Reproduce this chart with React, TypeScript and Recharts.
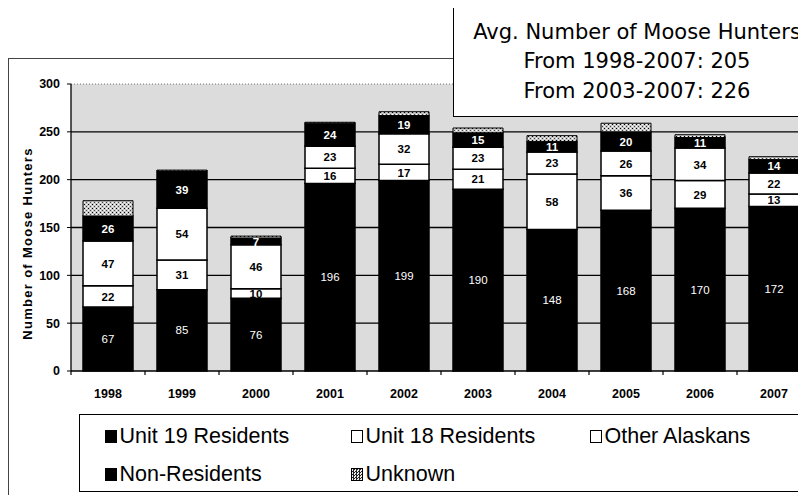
import React from "react";
import { BarChart, Bar, XAxis, YAxis, CartesianGrid, ReferenceLine, Legend, LabelList } from "recharts";

const years = ["1998", "1999", "2000", "2001", "2002", "2003", "2004", "2005", "2006", "2007"];
const unit19 = [67, 85, 76, 196, 199, 190, 148, 168, 170, 172];
const unit18 = [22, 31, 10, 16, 17, 21, 58, 36, 29, 13];
const otherAlaskans = [47, 54, 46, 23, 32, 23, 23, 26, 34, 22];
const nonResidents = [26, 39, 7, 24, 19, 15, 11, 20, 11, 14];
const unknown = [16, 1, 2, 1, 4, 5, 6, 9, 3, 3];
const yTicks = [0, 50, 100, 150, 200, 250, 300];
const gridValues = [50, 100, 150, 200, 250];
const avgLines = ["Avg. Number of Moose Hunters", "From 1998-2007: 205", "From 2003-2007: 226"];
const legendOrder = ["unit19", "unit18", "other", "nonres", "unknown"];

const data = years.map((year, i) => ({
  year,
  unit19: unit19[i],
  unit18: unit18[i],
  other: otherAlaskans[i],
  nonres: nonResidents[i],
  unknown: unknown[i],
}));

const ARIAL = "'Liberation Sans', Arial, sans-serif";

const checker = "repeating-conic-gradient(#222 0 25%, #eee 0 50%) 0 0 / 3px 3px";

const segLabel = (fill: string, weight: number, size: number) => (props: any) => {
  const vb = props.viewBox ?? props;
  const { x, y, width, height } = vb;
  if (props.value == null || !height) return null;
  return (
    <text
      x={x + width / 2}
      y={y + height / 2}
      dy="0.36em"
      textAnchor="middle"
      fill={fill}
      fontWeight={weight}
      fontFamily={ARIAL}
      fontSize={size}
    >
      {props.value}
    </text>
  );
};

function YearTick(props: any) {
  const { x, y, payload } = props;
  const half = payload?.offset ?? 37;
  return (
    <g>
      <line x1={x - half} x2={x - half} y1={y} y2={y + 4} stroke="#000" strokeWidth={1.2} />
      <text x={x} y={y + 27} textAnchor="middle" fontFamily={ARIAL} fontWeight={700} fontSize={12.5} fill="#000">
        {payload.value}
      </text>
    </g>
  );
}

function YLabel(props: any) {
  const { x, y, height } = props.viewBox;
  const cx = x + 27;
  const cy = y + height / 2 + 16;
  return (
    <text
      x={cx}
      y={cy}
      transform={`rotate(-90, ${cx}, ${cy})`}
      textAnchor="middle"
      dominantBaseline="central"
      fontFamily={ARIAL}
      fontWeight={700}
      fontSize={13}
      letterSpacing={1.3}
      fill="#000"
    >
      Number of Moose Hunters
    </text>
  );
}

const swatch: Record<string, React.CSSProperties> = {
  unit19: { background: "#000" },
  unit18: { background: "#fff" },
  other: { background: "#fff" },
  nonres: { background: "#000" },
  unknown: { background: checker },
};

const colLeft = [24.5, 270.5, 509.5];
const rowTop = [8.5, 46.5];

function LegendBox(props: any) {
  const items = [...(props.payload ?? [])].sort(
    (a: any, b: any) => legendOrder.indexOf(a.dataKey) - legendOrder.indexOf(b.dataKey)
  );
  return (
    <div
      style={{
        position: "relative",
        width: "100%",
        height: 78,
        boxSizing: "border-box",
        border: "1.5px solid #000",
        background: "#fff",
      }}
    >
      {items.map((it: any, i: number) => (
        <div
          key={it.value}
          style={{
            position: "absolute",
            left: colLeft[i % 3],
            top: rowTop[Math.floor(i / 3)],
            height: 26,
            display: "flex",
            alignItems: "center",
            fontFamily: ARIAL,
            fontSize: 21.5,
            color: "#000",
            whiteSpace: "nowrap",
          }}
        >
          <span
            style={{
              display: "inline-block",
              width: 12,
              height: 13,
              boxSizing: "border-box",
              border: "1.2px solid #000",
              marginRight: 3,
              ...swatch[it.dataKey],
            }}
          />
          {it.value}
        </div>
      ))}
    </div>
  );
}

export default function App() {
  return (
    <div style={{ position: "relative", margin: -8, width: 806, height: 503, overflow: "hidden", background: "#fff" }}>
      <div
        style={{
          position: "absolute",
          left: 8,
          top: 58,
          width: 900,
          height: 600,
          borderTop: "1px solid #444",
          borderLeft: "1px solid #444",
        }}
      />
      <div style={{ position: "absolute", left: 0, top: 0 }}>
        <BarChart width={830} height={503} data={data} margin={{ top: 84, right: 19, left: 0, bottom: 24 }} barSize={50}>
          <defs>
            <pattern id="unkFill" width="4" height="4" patternUnits="userSpaceOnUse">
              <rect width="4" height="4" fill="#c8c8c8" />
              <rect x="0" y="0" width="1" height="1" fill="#000" />
              <rect x="2" y="2" width="1" height="1" fill="#444" />
              <rect x="2" y="0" width="1" height="1" fill="#fff" />
              <rect x="0" y="2" width="1" height="1" fill="#fff" />
            </pattern>
          </defs>
          <CartesianGrid
            vertical={false}
            horizontalValues={gridValues}
            stroke="#000"
            strokeWidth={1.3}
            fill="#dcdcdc"
            fillOpacity={1}
          />
          <ReferenceLine y={300} stroke="#777" strokeDasharray="1 2" />
          <XAxis
            dataKey="year"
            height={30}
            tickLine={false}
            tickSize={0}
            tickMargin={0}
            axisLine={{ stroke: "#000", strokeWidth: 1.3 }}
            tick={<YearTick />}
            interval={0}
          />
          <YAxis
            width={71}
            domain={[0, 300]}
            ticks={yTicks}
            tickSize={4}
            tickMargin={7}
            axisLine={{ stroke: "#000", strokeWidth: 1.3 }}
            tickLine={{ stroke: "#000" }}
            tick={{ fontFamily: ARIAL, fontWeight: 700, fontSize: 12.5, fill: "#000" }}
            label={<YLabel />}
          />
          <Legend verticalAlign="bottom" wrapperStyle={{ left: 79, top: 414, width: 726, height: 78 }} content={<LegendBox />} />
          <Bar dataKey="unit19" name="Unit 19 Residents" stackId="a" fill="#000" stroke="#000" strokeWidth={1.5} isAnimationActive={false}>
            <LabelList dataKey="unit19" content={segLabel("#fff", 400, 11.5)} />
          </Bar>
          <Bar dataKey="unit18" name="Unit 18 Residents" stackId="a" fill="#fff" stroke="#000" strokeWidth={1.5} isAnimationActive={false}>
            <LabelList dataKey="unit18" content={segLabel("#000", 700, 11.5)} />
          </Bar>
          <Bar dataKey="other" name="Other Alaskans" stackId="a" fill="#fff" stroke="#000" strokeWidth={1.5} isAnimationActive={false}>
            <LabelList dataKey="other" content={segLabel("#000", 700, 11.5)} />
          </Bar>
          <Bar dataKey="nonres" name="Non-Residents" stackId="a" fill="#000" stroke="#000" strokeWidth={1.5} isAnimationActive={false}>
            <LabelList dataKey="nonres" content={segLabel("#fff", 700, 11.5)} />
          </Bar>
          <Bar dataKey="unknown" name="Unknown" stackId="a" fill="url(#unkFill)" stroke="#000" strokeWidth={1} isAnimationActive={false} />
        </BarChart>
      </div>
      <div
        style={{
          position: "absolute",
          left: 453,
          top: -2,
          width: 368,
          height: 119,
          boxSizing: "border-box",
          border: "1.5px solid #000",
          background: "#fff",
          paddingTop: 18.75,
          fontFamily: "'DejaVu Sans', Verdana, sans-serif",
          fontSize: 21,
          lineHeight: "29.5px",
          textAlign: "center",
          color: "#000",
        }}
      >
        {avgLines.map((t) => (
          <div key={t} style={{ whiteSpace: "nowrap" }}>
            {t}
          </div>
        ))}
      </div>
    </div>
  );
}
